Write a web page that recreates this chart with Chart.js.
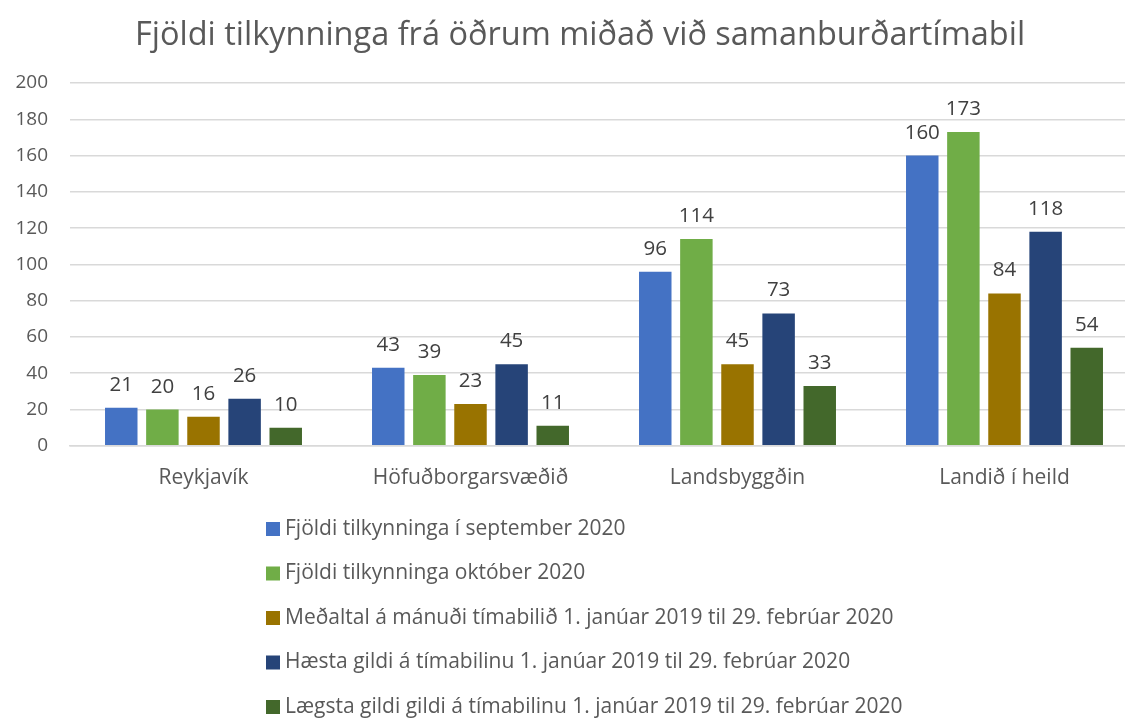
<!DOCTYPE html>
<html>
<head>
<meta charset="utf-8">
<script src="https://cdn.jsdelivr.net/npm/chart.js@4/dist/chart.umd.min.js"></script>
<style>
  html, body { margin: 0; padding: 0; background: #fff; overflow: hidden; }
  #wrap { width: 1160px; height: 720px; }
</style>
</head>
<body>
<div id="wrap"><canvas id="reportChart" width="1160" height="720"></canvas></div>
<script>
// Chart data
const categories = ['Reykjavík', 'Höfuðborgarsvæðið', 'Landsbyggðin', 'Landið í heild'];
const seriesNames = [
    'Fjöldi tilkynninga í september 2020',
    'Fjöldi tilkynninga október 2020',
    'Meðaltal á mánuði tímabilið 1. janúar 2019 til 29. febrúar 2020',
    'Hæsta gildi á tímabilinu 1. janúar 2019 til 29. febrúar 2020',
    'Lægsta gildi gildi á tímabilinu 1. janúar 2019 til 29. febrúar 2020'
];
const septValues = [21, 43, 96, 160];
const octValues = [20, 39, 114, 173];
const avgValues = [16, 23, 45, 84];
const maxValues = [26, 45, 73, 118];
const minValues = [10, 11, 33, 54];
const yTicks = [0, 20, 40, 60, 80, 100, 120, 140, 160, 180, 200];

const seriesColors = ['#4472C4', '#70AD47', '#997300', '#264478', '#43682B'];
const textColor = '#595959';
const fontFamily = '"Open Sans", "DejaVu Sans", sans-serif';

const seriesValues = [septValues, octValues, avgValues, maxValues, minValues];

// Value labels above each bar
const barLabels = {
    id: 'barLabels',
    afterDatasetsDraw(chart) {
        const ctx = chart.ctx;
        ctx.save();
        ctx.font = '20.5px ' + fontFamily;
        ctx.fillStyle = '#404040';
        ctx.textAlign = 'center';
        ctx.textBaseline = 'alphabetic';
        chart.data.datasets.forEach((ds, i) => {
            chart.getDatasetMeta(i).data.forEach((bar, j) => {
                ctx.fillText(ds.data[j], bar.x, bar.y - 17);
            });
        });
        ctx.restore();
    }
};

// Vertical legend under the chart
const stackedLegend = {
    id: 'stackedLegend',
    afterDraw(chart) {
        const ctx = chart.ctx;
        ctx.save();
        ctx.font = '21px ' + fontFamily;
        ctx.textBaseline = 'middle';
        ctx.textAlign = 'left';
        chart.data.datasets.forEach((ds, i) => {
            const y = 529 + i * 44.5;
            ctx.fillStyle = ds.backgroundColor;
            ctx.fillRect(266, y - 7, 14, 14);
            ctx.fillStyle = textColor;
            ctx.fillText(ds.label, 285, y);
        });
        ctx.restore();
    }
};

new Chart(document.getElementById('reportChart'), {
    type: 'bar',
    data: {
        labels: categories,
        datasets: seriesNames.map((name, i) => ({
            label: name,
            data: seriesValues[i],
            backgroundColor: seriesColors[i],
            borderWidth: 0,
            categoryPercentage: 0.77,
            barPercentage: 0.79
        }))
    },
    options: {
        responsive: false,
        animation: false,
        layout: {
            padding: { left: 0, right: 0, top: 0, bottom: 209 }
        },
        scales: {
            x: {
                grid: { display: false, drawTicks: false },
                border: { color: '#d9d9d9', width: 1.5 },
                ticks: {
                    color: textColor,
                    font: { family: fontFamily, size: 21 },
                    padding: 20
                }
            },
            y: {
                min: 0,
                max: 200,
                afterFit(scale) { scale.width = 70; },
                afterBuildTicks(scale) { scale.ticks = yTicks.map(v => ({ value: v })); },
                grid: { color: '#d9d9d9', lineWidth: 1.5, drawTicks: false },
                border: { display: false },
                ticks: {
                    color: textColor,
                    font: { family: fontFamily, size: 19 },
                    padding: 22
                }
            },
            // empty spacer on the right so the title stays centred on the full width
            spacer: {
                position: 'right',
                afterFit(scale) { scale.width = 22; },
                grid: { display: false, drawTicks: false },
                border: { display: false },
                ticks: { display: false }
            }
        },
        plugins: {
            legend: { display: false },
            tooltip: { enabled: false },
            title: {
                display: true,
                text: 'Fjöldi tilkynninga frá öðrum miðað við samanburðartímabil',
                color: textColor,
                font: { family: fontFamily, size: 32.5, weight: 'normal' },
                padding: { top: 16, bottom: 28 }
            }
        }
    },
    plugins: [barLabels, stackedLegend]
});
</script>
</body>
</html>
